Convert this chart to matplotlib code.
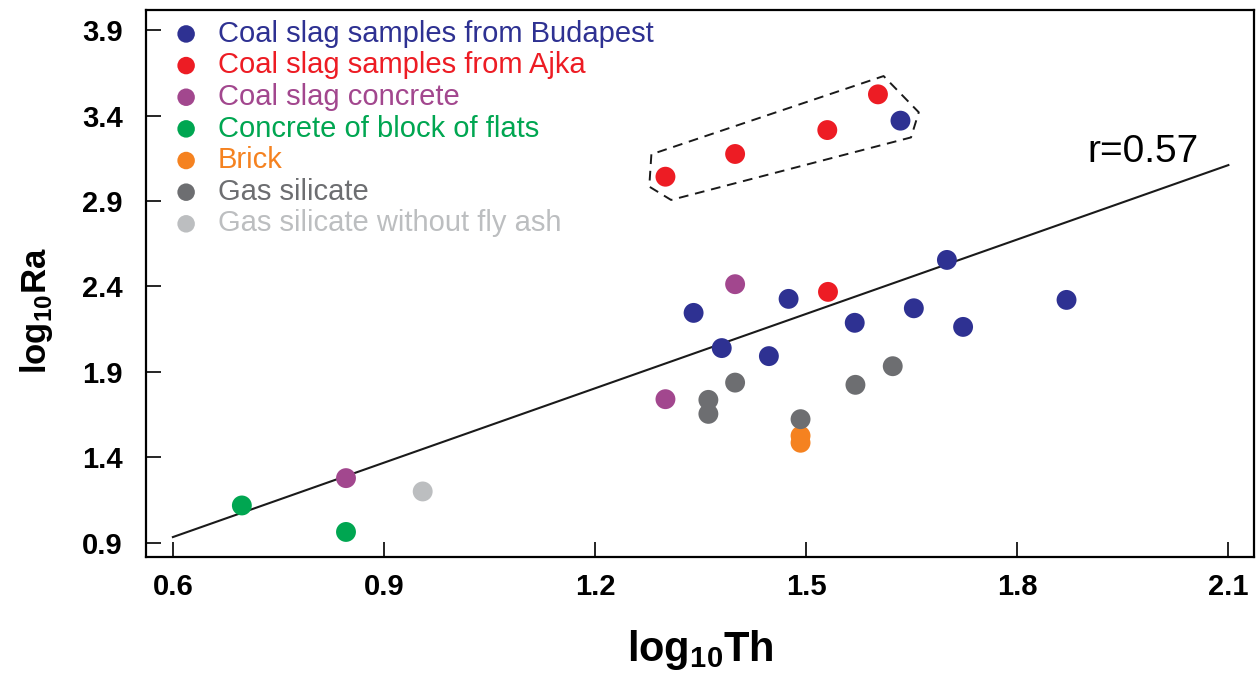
import matplotlib.pyplot as plt
import numpy as np

plt.rcParams['font.family'] = ['Liberation Sans', 'DejaVu Sans']
plt.rcParams['mathtext.fontset'] = 'custom'
plt.rcParams['mathtext.rm'] = 'Liberation Sans'
plt.rcParams['mathtext.bf'] = 'Liberation Sans:bold'

# data (log10 Th, log10 Ra)
budapest_x = [1.340, 1.380, 1.447, 1.475, 1.569, 1.653, 1.700, 1.723, 1.870, 1.634]
budapest_y = [2.245, 2.039, 1.992, 2.327, 2.187, 2.272, 2.555, 2.163, 2.321, 3.370]
ajka_x = [1.531, 1.300, 1.399, 1.530, 1.602]
ajka_y = [2.368, 3.042, 3.175, 3.315, 3.524]
slagconc_x = [1.399, 1.300, 0.846]
slagconc_y = [2.413, 1.740, 1.278]
flats_x = [0.698, 0.846]
flats_y = [1.118, 0.963]
brick_x = [1.492, 1.492]
brick_y = [1.526, 1.485]
gas_x = [1.361, 1.361, 1.399, 1.492, 1.570, 1.623]
gas_y = [1.736, 1.654, 1.837, 1.623, 1.824, 1.933]
gasnofly_x = [0.955]
gasnofly_y = [1.200]

fit_x = [0.6, 2.1]
fit_y = [0.933, 3.11]
r_text = 'r=0.57'

box_x = [1.280, 1.277, 1.308, 1.649, 1.660, 1.610, 1.280]
box_y = [3.173, 2.984, 2.906, 3.272, 3.419, 3.631, 3.173]

series = [
    (budapest_x, budapest_y, '#2e3192', 'Coal slag samples from Budapest'),
    (ajka_x, ajka_y, '#ed1c24', 'Coal slag samples from Ajka'),
    (slagconc_x, slagconc_y, '#a2478e', 'Coal slag concrete'),
    (flats_x, flats_y, '#00a651', 'Concrete of block of flats'),
    (brick_x, brick_y, '#f58220', 'Brick'),
    (gas_x, gas_y, '#6d6e71', 'Gas silicate'),
    (gasnofly_x, gasnofly_y, '#bcbec0', 'Gas silicate without fly ash'),
]

fig = plt.figure(figsize=(12.6, 6.74), dpi=100)
ax = fig.add_axes([0.116, 0.174, 0.879, 0.811])

ax.plot(fit_x, fit_y, color='#1a1a1a', lw=1.5, zorder=2)
ax.plot(box_x, box_y, color='#1a1a1a', lw=1.4, ls=(0, (5, 3.5)), zorder=2)

for x, y, c, lab in series:
    ax.scatter(x, y, s=205, color=c, edgecolors='none', label=lab, zorder=3)

ax.text(1.978, 3.187, r_text, fontsize=28, ha='center', va='center')

ax.set_xlim(0.562, 2.136)
ax.set_ylim(0.818, 4.017)
ax.set_xticks([0.6, 0.9, 1.2, 1.5, 1.8, 2.1])
ax.set_yticks([0.9, 1.4, 1.9, 2.4, 2.9, 3.4, 3.9])
ax.tick_params(direction='in', length=11, width=1.2, labelsize=21)
ax.tick_params(axis='y', pad=17)
ax.tick_params(axis='x', pad=12)
for lab in ax.get_xticklabels() + ax.get_yticklabels():
    lab.set_fontweight('bold')
for s in ax.spines.values():
    s.set_linewidth(1.6)

ax.set_xlabel(r'log$_{\mathbf{10}}$Th', fontsize=30, fontweight='bold', labelpad=19)
ax.set_ylabel(r'log$_{\mathbf{10}}$Ra', fontsize=25, fontweight='bold')
ax.yaxis.set_label_coords(-0.082, 0.45)

leg = ax.legend(loc='upper left', bbox_to_anchor=(0.0, 1.02), frameon=False,
                fontsize=21, markerscale=0.88, handletextpad=0.42,
                labelspacing=0.125, borderaxespad=0.3, handlelength=1.34)
for t, (_, _, c, _) in zip(leg.get_texts(), series):
    t.set_color(c)

fig.savefig('out.png', dpi=100)
